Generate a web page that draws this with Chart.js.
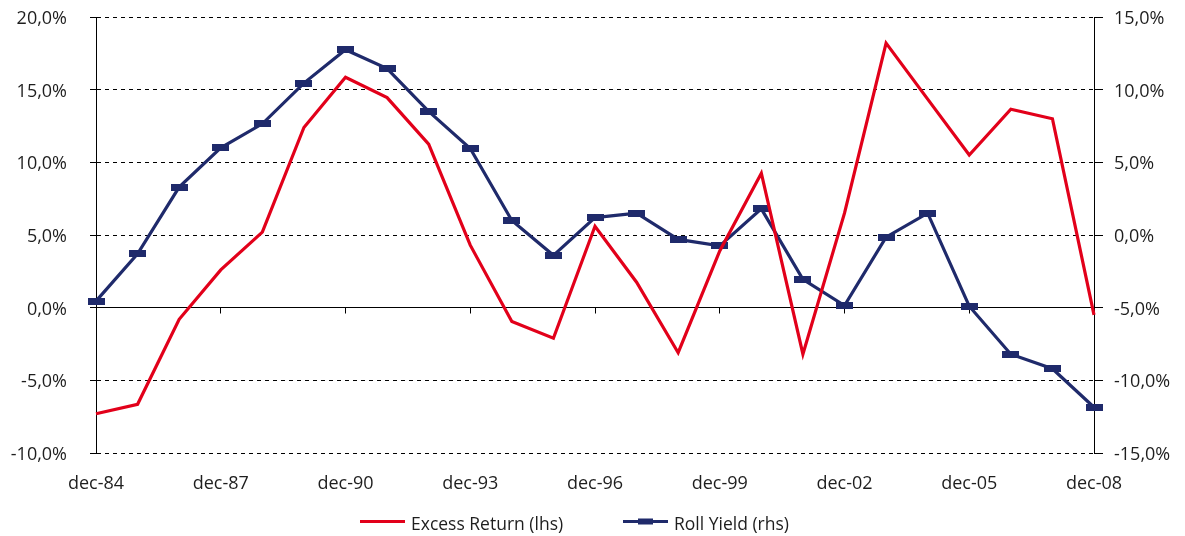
<!DOCTYPE html>
<html>
<head>
<meta charset="utf-8">
<script src="https://cdn.jsdelivr.net/npm/chart.js@4/dist/chart.umd.min.js"></script>
<style>
  html, body { margin: 0; padding: 0; background: #fff; }
  #wrap { width: 1185px; height: 536px; }
</style>
</head>
<body>
<div id="wrap"><canvas id="chart" width="1185" height="536"></canvas></div>
<script>
// yearly observations, december of each year
const categories = ['dec-84','dec-85','dec-86','dec-87','dec-88','dec-89','dec-90','dec-91','dec-92',
  'dec-93','dec-94','dec-95','dec-96','dec-97','dec-98','dec-99','dec-00','dec-01','dec-02',
  'dec-03','dec-04','dec-05','dec-06','dec-07','dec-08'];
const tickLabels = ['dec-84','dec-87','dec-90','dec-93','dec-96','dec-99','dec-02','dec-05','dec-08'];

// left axis (%)
const excessReturn = [-7.3, -6.65, -0.8, 2.6, 5.2, 12.4, 15.85, 14.45, 11.25, 4.3, -0.95, -2.1, 5.6,
  1.75, -3.1, 3.9, 9.25, -3.2, 6.5, 18.2, 14.35, 10.5, 13.65, 13.0, -0.5];
// right axis (%)
const rollYield = [-4.55, -1.3, 3.3, 6.0, 7.65, 10.45, 12.75, 11.45, 8.5, 5.95, 1.0, -1.4, 1.2,
  1.5, -0.3, -0.75, 1.8, -3.05, -4.85, -0.15, 1.5, -4.9, -8.2, -9.2, -11.85];

const RED = '#e2001a';
const BLUE = '#1f2a6b';
const FONT = 'Open Sans';
const TXT = '#1e1e1e';

// flat rectangular marker
function makeMarker(w, h) {
  const c = document.createElement('canvas');
  c.width = w; c.height = h;
  const g = c.getContext('2d');
  g.fillStyle = BLUE;
  g.fillRect(0, 0, w, h);
  return c;
}
const marker = makeMarker(17, 7);

function pct(v) {
  return v.toFixed(1).replace('.', ',') + '%';
}

// snap to the same pixel grid chart.js uses for 1px lines
function crisp(p) {
  return Math.round(p - 0.5) + 0.5;
}

// fixed axis widths, and don't let tick padding push the plot down
function fixWidth(w) {
  return s => {
    s.width = w;
    s.paddingTop = 10;
    s.paddingBottom = 10;
  };
}

const extras = {
  id: 'extras',
  beforeDatasetsDraw(chart) {
    const {ctx, chartArea, scales} = chart;
    const y0 = crisp(scales.y.getPixelForValue(0));
    ctx.save();
    ctx.strokeStyle = '#000';
    ctx.lineWidth = 1;
    ctx.beginPath();
    ctx.moveTo(chartArea.left, y0);
    ctx.lineTo(chartArea.right, y0);
    // tick marks for the labelled years hang from the zero line
    categories.forEach((c, i) => {
      if (!tickLabels.includes(c)) return;
      const x = crisp(scales.x.getPixelForValue(i));
      ctx.moveTo(x, y0);
      ctx.lineTo(x, y0 + 6);
    });
    ctx.stroke();
    ctx.restore();
  },
  afterDraw(chart) {
    const ctx = chart.ctx;
    const y = 521.5;
    ctx.save();
    ctx.lineWidth = 3;
    ctx.strokeStyle = RED;
    ctx.beginPath();
    ctx.moveTo(360, y); ctx.lineTo(405, y);
    ctx.stroke();
    ctx.strokeStyle = BLUE;
    ctx.beginPath();
    ctx.moveTo(623, y); ctx.lineTo(668, y);
    ctx.stroke();
    ctx.fillStyle = BLUE;
    ctx.fillRect(638, y - 3, 15, 6);
    ctx.fillStyle = TXT;
    ctx.font = '17.5px "' + FONT + '"';
    ctx.textBaseline = 'alphabetic';
    ctx.fillText('Excess Return (lhs)', 411, 529.5);
    ctx.fillText('Roll Yield (rhs)', 674, 529.5);
    ctx.restore();
  }
};

new Chart(document.getElementById('chart'), {
  type: 'line',
  data: {
    labels: categories,
    datasets: [{
      label: 'Excess Return (lhs)',
      data: excessReturn,
      yAxisID: 'y',
      borderColor: RED,
      backgroundColor: RED,
      borderWidth: 3.2,
      pointRadius: 0,
      tension: 0,
      clip: false
    }, {
      label: 'Roll Yield (rhs)',
      data: rollYield,
      yAxisID: 'y1',
      borderColor: BLUE,
      backgroundColor: BLUE,
      borderWidth: 3.2,
      pointStyle: marker,
      pointRadius: 5,
      tension: 0,
      clip: false
    }]
  },
  options: {
    responsive: false,
    animation: false,
    layout: { padding: { top: 17, left: 0, right: 0, bottom: 0 } },
    plugins: { legend: { display: false }, tooltip: { enabled: false } },
    scales: {
      x: {
        offset: false,
        grid: { display: false, drawTicks: false },
        border: { display: false },
        ticks: {
          autoSkip: false,
          maxRotation: 0,
          padding: 20,
          color: TXT,
          font: { family: FONT, size: 18 },
          callback: function (v) {
            const l = this.getLabelForValue(v);
            return tickLabels.includes(l) ? l : '';
          }
        },
        afterFit: s => { s.height = 83; }
      },
      y: {
        position: 'left',
        min: -10, max: 20,
        grid: { color: '#000', lineWidth: 1, tickLength: 6 },
        border: { color: '#000', width: 1, dash: [4, 4] },
        ticks: {
          stepSize: 5, padding: 23, labelOffset: 2,
          color: TXT, font: { family: FONT, size: 18 },
          callback: v => pct(v)
        },
        afterFit: fixWidth(96)
      },
      y1: {
        position: 'right',
        min: -15, max: 15,
        grid: { drawOnChartArea: false, color: '#000', lineWidth: 1, tickLength: 9 },
        border: { color: '#000', width: 1 },
        ticks: {
          stepSize: 5, padding: 11, labelOffset: 2,
          color: TXT, font: { family: FONT, size: 18 },
          callback: v => pct(v)
        },
        afterFit: fixWidth(91)
      }
    }
  },
  plugins: [extras]
});
</script>
</body>
</html>
